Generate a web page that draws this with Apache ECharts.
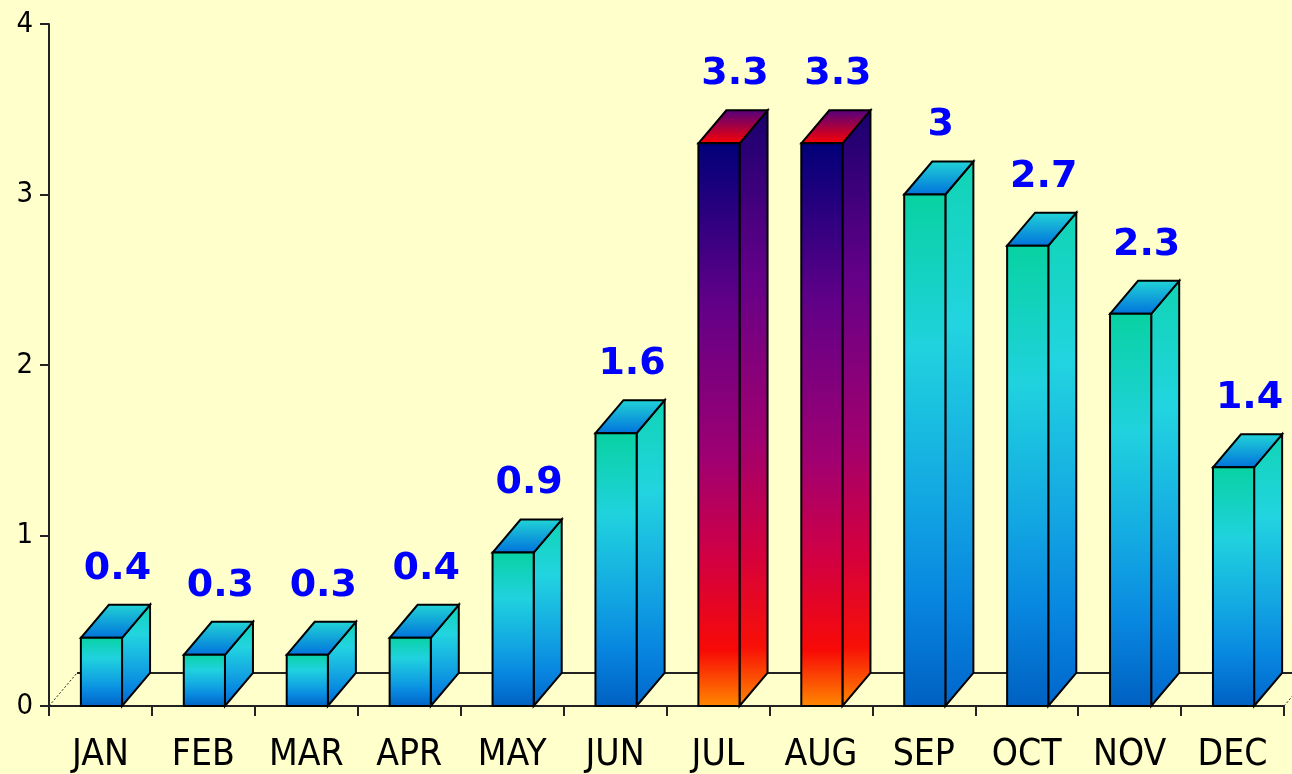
<!DOCTYPE html>
<html>
<head>
<meta charset="utf-8">
<script src="https://cdn.jsdelivr.net/npm/echarts@6/dist/echarts.min.js"></script>
<style>
html,body{margin:0;padding:0;background:#FFFFCC;}
#chart{width:1292px;height:774px;}
</style>
</head>
<body>
<div id="chart"></div>
<script>
// ---- data ----
const months = ['JAN','FEB','MAR','APR','MAY','JUN','JUL','AUG','SEP','OCT','NOV','DEC'];
const rainfall = [0.4, 0.3, 0.3, 0.4, 0.9, 1.6, 3.3, 3.3, 3, 2.7, 2.3, 1.4];
const yTicks = [0, 1, 2, 3, 4];

// ---- style ----
const DX = 28, DY = -33;
const G = echarts.graphic.LinearGradient;
const maxVal = Math.max.apply(null, rainfall);
const axisFont = '"DejaVu Sans Condensed", "Liberation Sans Narrow", "Liberation Sans", sans-serif';

function frontCool(){ return new G(0,0,0,1,[
  {offset:0,color:'#08D2A2'},{offset:0.3,color:'#20D2DE'},{offset:0.6,color:'#12A6E2'},
  {offset:0.78,color:'#0888E0'},{offset:1,color:'#0060C2'}]); }
function sideCool(){ return new G(0,0,0,1,[
  {offset:0,color:'#10D4B4'},{offset:0.3,color:'#22D4E0'},{offset:0.6,color:'#14A8E2'},
  {offset:0.8,color:'#0888E0'},{offset:1,color:'#0066CC'}]); }
function topCool(){ return new G(0,0,0,1,[
  {offset:0,color:'#22D6D6'},{offset:1,color:'#0070DC'}]); }
function frontHot(){ return new G(0,0,0,1,[
  {offset:0,color:'#000078'},{offset:0.28,color:'#600088'},{offset:0.56,color:'#A00072'},
  {offset:0.74,color:'#D20042'},{offset:0.9,color:'#F80A06'},{offset:1,color:'#FF8A00'}]); }
function sideHot(){ return new G(0,0,0,1,[
  {offset:0,color:'#18006E'},{offset:0.28,color:'#640088'},{offset:0.56,color:'#A2006E'},
  {offset:0.74,color:'#D4003E'},{offset:0.9,color:'#F81006'},{offset:1,color:'#FF8A00'}]); }
function topHot(){ return new G(0,0,0,1,[
  {offset:0,color:'#500080'},{offset:1,color:'#FF0000'}]); }

const stroke = {stroke:'#000', lineWidth:2, lineJoin:'miter'};

const chart = echarts.init(document.getElementById('chart'), null, {renderer:'canvas'});
chart.setOption({
  backgroundColor:'#FFFFCC',
  animation:false,
  grid:{left:49, right:8, top:24, bottom:67},
  xAxis:{
    type:'category', data:months, boundaryGap:true,
    axisLine:{lineStyle:{color:'#222', width:2}},
    axisTick:{show:true, length:10, interval:0, lineStyle:{color:'#222', width:2}},
    axisLabel:{color:'#000', fontFamily:axisFont, fontSize:37, margin:31, interval:0}
  },
  yAxis:{
    type:'value', min:yTicks[0], max:yTicks[yTicks.length-1], interval:1,
    splitLine:{show:false},
    axisLine:{show:true, lineStyle:{color:'#222', width:2}},
    axisTick:{show:true, length:9, lineStyle:{color:'#222', width:2}},
    axisLabel:{color:'#000', fontFamily:axisFont, fontSize:29, margin:16,
      formatter:function(v){ return yTicks.indexOf(v) >= 0 ? String(v) : ''; }}
  },
  series:[
    {
      type:'custom', silent:true, z:1,
      data:[[0,0]],
      renderItem:function(params, api){
        const cs = params.coordSys;
        const bx = cs.x, by = cs.y + cs.height, ex = cs.x + cs.width;
        return {type:'group', children:[
          {type:'line', shape:{x1:bx+DX, y1:by+DY, x2:ex+DX+40, y2:by+DY}, style:{stroke:'#222', lineWidth:2}},
          {type:'line', shape:{x1:bx, y1:by, x2:bx+DX, y2:by+DY}, style:{stroke:'#222', lineWidth:1, lineDash:[2,2]}},
          {type:'line', shape:{x1:ex, y1:by, x2:ex+DX, y2:by+DY}, style:{stroke:'#222', lineWidth:1, lineDash:[2,2]}}
        ]};
      }
    },
    {
      type:'custom', z:2,
      data:rainfall.map(function(v,i){ return [i, v]; }),
      encode:{x:0, y:1},
      renderItem:function(params, api){
        const i = api.value(0), v = api.value(1);
        const top = api.coord([i, v]);
        const base = api.coord([i, 0]);
        const band = api.size([1, 0])[0];
        const w = band * 0.4;
        const x0 = top[0] - w/2 + 1, x1 = x0 + w;
        const yT = top[1], yB = base[1];
        const hot = v === maxVal;
        return {type:'group', children:[
          {type:'polygon', shape:{points:[[x1,yT],[x1+DX,yT+DY],[x1+DX,yB+DY],[x1,yB]]},
            style:Object.assign({fill: hot ? sideHot() : sideCool()}, stroke)},
          {type:'polygon', shape:{points:[[x0,yT],[x0+DX,yT+DY],[x1+DX,yT+DY],[x1,yT]]},
            style:Object.assign({fill: hot ? topHot() : topCool()}, stroke)},
          {type:'rect', shape:{x:x0, y:yT, width:w, height:yB-yT},
            style:Object.assign({fill: hot ? frontHot() : frontCool()}, stroke)},
          {type:'text', x: top[0] + 17, y: yT + DY - 36,
            style:{text:String(v), fill:'#0000FF', fontFamily:'"DejaVu Sans", Verdana, sans-serif',
              fontWeight:'bold', fontSize:38, align:'center', verticalAlign:'middle'}}
        ]};
      }
    }
  ]
});
</script>
</body>
</html>
